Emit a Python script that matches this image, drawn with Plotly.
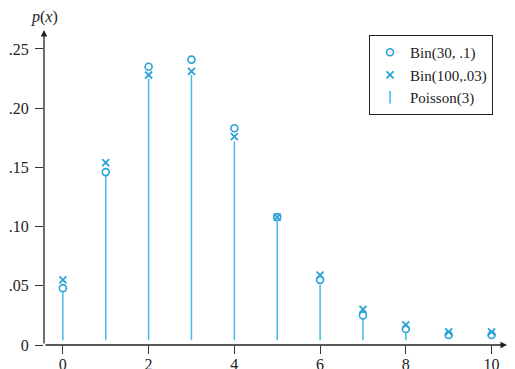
import plotly.graph_objects as go

x_vals = [0, 1, 2, 3, 4, 5, 6, 7, 8, 9, 10]
bin30 = [0.048, 0.146, 0.235, 0.241, 0.183, 0.108, 0.055, 0.025, 0.0135, 0.0085, 0.0085]
bin100 = [0.055, 0.154, 0.228, 0.231, 0.176, 0.108, 0.059, 0.030, 0.017, 0.011, 0.011]
poisson = [0.045, 0.143, 0.225, 0.228, 0.172, 0.104, 0.051, 0.023, 0.011, 0.003, 0.001]

x_ticks = [0, 2, 4, 6, 8, 10]
y_ticks = [0, 0.05, 0.10, 0.15, 0.20, 0.25]
y_tick_text = ["0", ".05", ".10", ".15", ".20", ".25"]

stem_base = 0.004
stem_color = "#45bde6"
mark_color = "#2aa3d6"
serif = "Liberation Serif, Times New Roman, serif"

sx, sy = [], []
for xv, pv in zip(x_vals, poisson):
    if pv > stem_base:
        sx += [xv, xv, None]
        sy += [stem_base, pv, None]

fig = go.Figure()
fig.add_trace(go.Scatter(x=sx, y=sy, mode="lines", line=dict(color=stem_color, width=1.5),
                         showlegend=False, hoverinfo="skip"))
fig.add_trace(go.Scatter(x=x_vals, y=bin30, mode="markers", name="Bin(30, .1)",
                         marker=dict(symbol="circle-open", size=7, color=mark_color,
                                     line=dict(width=1.6, color=mark_color))))
fig.add_trace(go.Scatter(x=x_vals, y=bin100, mode="markers", name="Bin(100,.03)",
                         marker=dict(symbol="x-thin-open", size=7, color=mark_color,
                                     line=dict(width=1.8, color=mark_color))))
fig.add_trace(go.Scatter(x=[None], y=[None], mode="markers", name="Poisson(3)",
                         marker=dict(symbol="line-ns-open", size=9, color=stem_color,
                                     line=dict(width=1.6, color=stem_color))))

# the page body adds an 8px offset; size the figure to fill the rest of the window
fig.update_layout(
    width=507, height=361,
    margin=dict(l=36, r=8, t=22, b=24),
    paper_bgcolor="white", plot_bgcolor="white",
    font=dict(family=serif, size=15, color="#222"),
    legend=dict(x=0.702, y=0.984, xanchor="left", yanchor="top",
                bordercolor="#222", borderwidth=1, bgcolor="white",
                font=dict(family=serif, size=15, color="#222"),
                itemwidth=30, tracegroupgap=0),
    xaxis=dict(range=[-0.44, 10.36], tickvals=x_ticks, ticks="outside", ticklen=8,
               tickcolor="#333", tickwidth=1.2, showgrid=False, zeroline=False,
               showline=False, automargin=False, ticklabelstandoff=-3,
               tickfont=dict(family=serif, size=16, color="#222")),
    yaxis=dict(range=[0, 0.266], tickvals=y_ticks, ticktext=y_tick_text, ticks="outside",
               ticklen=8, tickcolor="#333", tickwidth=1.2, showgrid=False, zeroline=False,
               showline=False, automargin=False, ticklabelstandoff=3,
               tickfont=dict(family=serif, size=16, color="#222")),
    showlegend=True,
)

# axis lines with arrowheads
fig.add_annotation(x=0, y=1, ax=0, ay=0, xref="x domain", yref="y domain",
                   axref="x domain", ayref="y domain",
                   showarrow=True, arrowhead=2, arrowsize=1, arrowwidth=1.3, arrowcolor="#222", text="")
fig.add_annotation(x=1, y=0, ax=0, ay=0, xref="x domain", yref="y domain",
                   axref="x domain", ayref="y domain",
                   showarrow=True, arrowhead=2, arrowsize=1, arrowwidth=1.3, arrowcolor="#222", text="")
fig.add_annotation(x=0, y=1, xref="paper", yref="paper", xanchor="center", yanchor="bottom",
                   yshift=2, showarrow=False, text="<i>p</i>(<i>x</i>)",
                   font=dict(family=serif, size=16, color="#222"))

fig.write_html("out.html")
